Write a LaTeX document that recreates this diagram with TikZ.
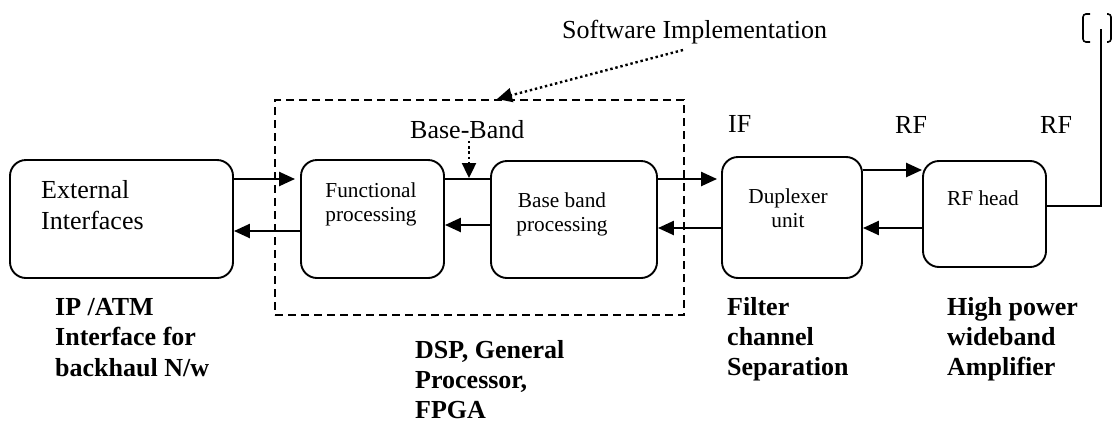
\documentclass[tikz,border=0pt]{standalone}
\usepackage{fontspec}
\setmainfont{Liberation Serif}
\usetikzlibrary{arrows.meta}
\newcommand\lblfont{\fontsize{26}{31}\selectfont}
\newcommand\boxfont{\fontsize{21.3}{24}\selectfont}
\tikzset{
  blockbox/.style={draw, line width=1.9pt, rounded corners=16pt, inner sep=0pt},
  dashframe/.style={draw, line width=1.5pt, dash pattern=on 8pt off 5pt, inner sep=0pt},
  txt/.style={inner sep=0pt, font=\lblfont, anchor=base west},
  boxtxt/.style={inner sep=0pt, font=\boxfont, anchor=base},
  boldtxt/.style={inner sep=0pt, font=\lblfont\bfseries, anchor=base west},
  flow/.style={line width=2.4pt, -{Triangle[length=16pt,width=14pt]}},
  plain/.style={line width=2.4pt},
  dotarrow/.style={line width=2.4pt, dash pattern=on 2.4pt off 2.8pt,
                   -{Triangle[length=15pt,width=14pt]}},
}
\begin{document}
\begin{tikzpicture}[x=1pt, y=-1pt]
\useasboundingbox (0,0) rectangle (1113,426);

% processing blocks
\node[blockbox, minimum width=223pt, minimum height=118pt] (ext)  at (121.5,219) {};
\node[blockbox, minimum width=143pt, minimum height=118pt] (func) at (372.5,219) {};
\node[blockbox, minimum width=166pt, minimum height=117pt] (bb)   at (574,219.5) {};
\node[blockbox, minimum width=140pt, minimum height=121pt] (dup)  at (792,217.5) {};
\node[blockbox, minimum width=123pt, minimum height=106pt] (rf)   at (984.5,214) {};

% software-defined part
\node[dashframe, minimum width=409pt, minimum height=215pt] (sdr) at (479.5,207.5) {};

% block captions
\node[txt] (ext1) at (41,198) {External};
\node[txt] (ext2) at (41,229) {Interfaces};
\node[boxtxt] (func1) at (371,197) {Functional};
\node[boxtxt] (func2) at (371,221) {processing};
\node[boxtxt] (bb1) at (562,207) {Base band};
\node[boxtxt] (bb2) at (562,231) {processing};
\node[boxtxt] (dup1) at (788,203) {Duplexer};
\node[boxtxt] (dup2) at (788,227) {unit};
\node[boxtxt] (rf1) at (983,205) {RF head};

% signal labels
\node[txt] (sw)   at (562,38)  {Software Implementation};
\node[txt] (bbl)  at (410,138) {Base-Band};
\node[txt] (ifl)  at (728,132) {IF};
\node[txt] (rfl1) at (895,133) {RF};
\node[txt] (rfl2) at (1040,133) {RF};

% hardware notes
\node[boldtxt] (n1a) at (55,315) {IP /ATM};
\node[boldtxt] (n1b) at (55,345) {Interface for};
\node[boldtxt] (n1c) at (55,376) {backhaul N/w};
\node[boldtxt] (n2a) at (415,358) {DSP, General};
\node[boldtxt] (n2b) at (415,388) {Processor,};
\node[boldtxt] (n2c) at (415,418) {FPGA};
\node[boldtxt] (n3a) at (727,315) {Filter};
\node[boldtxt] (n3b) at (727,345) {channel};
\node[boldtxt] (n3c) at (727,375) {Separation};
\node[boldtxt] (n4a) at (947,315) {High power};
\node[boldtxt] (n4b) at (947,345) {wideband};
\node[boldtxt] (n4c) at (947,375) {Amplifier};

% transmit / receive paths
\draw[flow, shorten >=5pt] (ext.east |- 0,179) -- (func.west |- 0,179);
\draw[flow] (func.west |- 0,231) -- (ext.east |- 0,231);
\draw[plain] (func.east |- 0,179) -- (bb.west |- 0,179);
\draw[flow] (bb.west |- 0,225) -- (func.east |- 0,225);
\draw[flow, shorten >=4pt] (bb.east |- 0,179) -- (dup.west |- 0,179);
\draw[flow] (dup.west |- 0,228) -- (bb.east |- 0,228);
\draw[flow] (dup.east |- 0,170) -- (rf.west |- 0,170);
\draw[flow] (rf.west |- 0,228) -- (dup.east |- 0,228);

% antenna feed
\coordinate (feed) at (1101,29);
\draw[line width=1.8pt] (rf.east |- 0,206) -| (feed);
\draw[line width=1.6pt, rounded corners=3pt] (1090,14) -- (1083,14) -- (1083,42) -- (1090,42);
\draw[line width=1.6pt, rounded corners=3pt] (1107,14) -- (1111,14) -- (1111,42) -- (1107,42);

% pointers
\coordinate (swtail) at (683,50);
\coordinate (swtip) at (497,99);
\draw[dotarrow] (swtail) -- (swtip);
\coordinate (bbtail) at (469,141);
\coordinate (bbtip) at (469,178);
\draw[dotarrow] (bbtail) -- (bbtip);
\end{tikzpicture}
\end{document}
